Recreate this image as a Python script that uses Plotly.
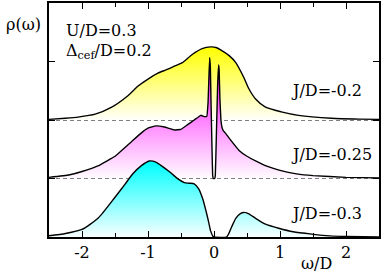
import plotly.graph_objects as go

# --- data ---
w_yellow = [-2.5, -2.25, -2.06, -1.8, -1.55, -1.3, -1.15, -1.0, -0.85, -0.72, -0.6, -0.48, -0.33,
            -0.18, -0.05, 0.03, 0.1, 0.23, 0.33, 0.45, 0.53, 0.63, 0.78, 1.02, 1.28, 1.78, 2.2, 2.5]
rho_yellow = [0.01, 0.03, 0.05, 0.1, 0.22, 0.42, 0.58, 0.7, 0.8, 0.86, 0.92, 0.98, 1.12,
              1.22, 1.25, 1.24, 1.2, 1.1, 0.98, 0.73, 0.53, 0.36, 0.22, 0.14, 0.08, 0.03, 0.015, 0.01]

w_magenta = [-2.5, -2.2, -2.0, -1.75, -1.5, -1.25, -1.1, -1.0, -0.88, -0.75, -0.6, -0.5, -0.4, -0.3,
             -0.2, -0.15, -0.11, -0.09, -0.075, -0.065, -0.055, -0.045, -0.03, -0.02, -0.01,
             0.01, 0.02, 0.035, 0.055, 0.07, 0.078, 0.09, 0.105, 0.12, 0.14, 0.17, 0.25, 0.38,
             0.5, 0.63, 0.8, 1.0, 1.25, 1.5, 2.0, 2.5]
rho_magenta = [0.02, 0.06, 0.12, 0.22, 0.38, 0.63, 0.78, 0.86, 0.9, 0.88, 0.83, 0.84, 0.92, 1.0,
               1.08, 1.06, 1.06, 1.3, 1.8, 2.07, 1.9, 1.3, 0.5, 0.05, 0.0,
               0.0, 0.05, 0.7, 1.6, 1.94, 1.85, 1.35, 1.0, 0.88, 0.82, 0.78, 0.66, 0.48,
               0.38, 0.3, 0.21, 0.14, 0.08, 0.05, 0.02, 0.01]

w_cyan = [-2.5, -2.25, -2.0, -1.75, -1.5, -1.35, -1.23, -1.1, -0.98, -0.88, -0.8, -0.68, -0.53,
          -0.45, -0.38, -0.3, -0.23, -0.17, -0.12, -0.08, -0.05, -0.02, 0.0, 0.19, 0.22, 0.27,
          0.33, 0.4, 0.45, 0.52, 0.63, 0.78, 0.98, 1.2, 1.48, 1.75, 2.0, 2.5]
rho_cyan = [0.02, 0.06, 0.13, 0.33, 0.68, 0.9, 1.08, 1.22, 1.3, 1.28, 1.22, 1.12, 0.98,
            0.93, 0.92, 0.91, 0.82, 0.65, 0.44, 0.25, 0.1, 0.02, 0.0, 0.0, 0.05, 0.18,
            0.32, 0.4, 0.42, 0.4, 0.32, 0.22, 0.15, 0.09, 0.05, 0.02, 0.01, 0.0]

offsets = [2, 1, 0]
labels = ["J/D=-0.2", "J/D=-0.25", "J/D=-0.3"]
colors = ["#ffff00", "#ff00ff", "#00ffff"]
smooth = [0.6, 0.2, 0.6]
x_ticks = [-2, -1, 0, 1, 2]
x_tick_text = ["-2", "-1", "0", "1", "2"]

FONT = "DejaVu Serif"
FS = 16
fig = go.Figure()

# dashed baselines
for off in offsets[:2]:
    fig.add_trace(go.Scatter(x=[-2.5, 2.5], y=[off, off], mode="lines",
                             line=dict(color="black", width=1.2, dash="4px,3px"),
                             showlegend=False, hoverinfo="skip"))

series = [(w_yellow, rho_yellow), (w_magenta, rho_magenta), (w_cyan, rho_cyan)]
for (w, r), off, col, sm in zip(series, offsets, colors, smooth):
    y = [v + off for v in r]
    xs = list(w) + [w[-1], w[0]]
    ys = y + [off, off]
    fig.add_trace(go.Scatter(x=xs, y=ys, mode="none", fill="toself",
                             fillgradient=dict(type="vertical",
                                               colorscale=[[0, "white"], [1, col]],
                                               start=off, stop=max(y)),
                             showlegend=False, hoverinfo="skip"))
    fig.add_trace(go.Scatter(x=w, y=y, mode="lines",
                             line=dict(color="black", width=1.4, shape="spline", smoothing=sm),
                             showlegend=False, hoverinfo="skip"))

# curve labels
label_y = [2.51, 1.41, 0.41]
for txt, ly in zip(labels, label_y):
    fig.add_annotation(x=1.14, y=ly, text=txt, showarrow=False, xanchor="left", yanchor="middle",
                       font=dict(family=FONT, size=FS, color="black"))

fig.add_annotation(xref="paper", yref="paper", x=(64 - 49) / 332, y=1 - 28 / 236,
                   text="U/D=0.3", showarrow=False, xanchor="left", yanchor="middle",
                   font=dict(family=FONT, size=FS, color="black"))
fig.add_annotation(xref="paper", yref="paper", x=(64 - 49) / 332, y=1 - 49 / 236,
                   text="Δ<sub>cef</sub>/D=0.2", showarrow=False, xanchor="left", yanchor="middle",
                   font=dict(family=FONT, size=FS, color="black"))
fig.add_annotation(xref="paper", yref="paper", x=(4 - 49) / 332, y=1 - 22 / 236,
                   text="ρ(ω)", showarrow=False, xanchor="left", yanchor="middle",
                   font=dict(family=FONT, size=FS, color="black"))
fig.add_annotation(xref="paper", yref="paper", x=(318 - 49) / 332, y=-(263 - 236) / 236,
                   text="ω/D", showarrow=False, xanchor="center", yanchor="middle",
                   font=dict(family=FONT, size=FS, color="black"))

fig.update_layout(
    width=382, height=276,
    margin=dict(l=49, r=1, t=1, b=39),
    plot_bgcolor="white", paper_bgcolor="white",
    showlegend=False,
    xaxis=dict(range=[-2.5, 2.5], tickvals=x_ticks, ticktext=x_tick_text,
               ticks="inside", ticklen=6, tickwidth=1.2, tickcolor="black",
               minor=dict(dtick=0.5, ticks="inside", ticklen=4, tickwidth=1.2, tickcolor="black"),
               showline=True, linecolor="black", linewidth=1.5, mirror="ticks",
               showgrid=False, zeroline=False, ticklabelstandoff=0,
               tickfont=dict(family=FONT, size=FS, color="black")),
    yaxis=dict(range=[0, 4], dtick=1, ticks="inside", ticklen=6, tickwidth=1.2, tickcolor="black",
               showline=True, linecolor="black", linewidth=1.5, mirror="ticks",
               showgrid=False, zeroline=False, showticklabels=False),
)

fig.write_html("out.html", config={"displayModeBar": False},
               post_script="document.body.style.margin='0';")
